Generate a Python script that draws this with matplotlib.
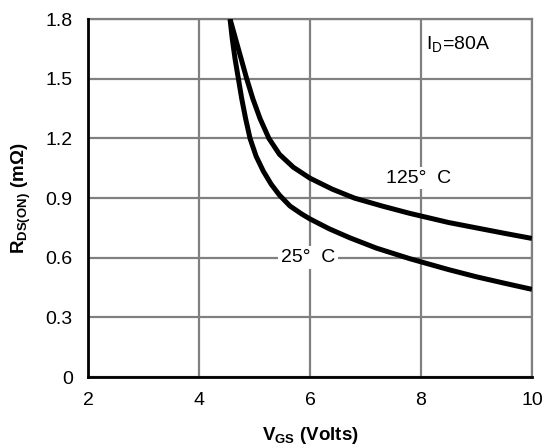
import numpy as np
import matplotlib
matplotlib.use('Agg')
import matplotlib.pyplot as plt

plt.rcParams['font.family'] = ['Liberation Sans', 'DejaVu Sans']
plt.rcParams['mathtext.fontset'] = 'custom'
plt.rcParams['mathtext.rm'] = 'Liberation Sans'
plt.rcParams['mathtext.bf'] = 'Liberation Sans:bold'

# values
vgs_125 = [4.56, 4.66, 4.76, 4.86, 4.97, 5.10, 5.26, 5.45, 5.70, 6.0, 6.4, 6.8, 7.3, 7.8, 8.5, 9.0, 9.5, 10.0]
rds_125 = [1.80, 1.70, 1.60, 1.50, 1.40, 1.30, 1.20, 1.12, 1.055, 1.00, 0.945, 0.90, 0.86, 0.823, 0.777, 0.75, 0.723, 0.697]

vgs_25 = [4.56, 4.60, 4.65, 4.71, 4.77, 4.84, 4.92, 5.03, 5.16, 5.30, 5.45, 5.64, 5.85, 6.0,
          6.35, 6.72, 7.2, 7.8, 8.5, 9.0, 9.5, 10.0]
rds_25 = [1.80, 1.70, 1.60, 1.50, 1.40, 1.30, 1.20, 1.11, 1.035, 0.97, 0.915, 0.86, 0.82, 0.795,
          0.745, 0.70, 0.648, 0.595, 0.54, 0.504, 0.472, 0.441]

xticks = [2, 4, 6, 8, 10]
yticks = [0, 0.3, 0.6, 0.9, 1.2, 1.5, 1.8]
ytick_labels = ['0', '0.3', '0.6', '0.9', '1.2', '1.5', '1.8']

fig = plt.figure(figsize=(5.45, 4.45), dpi=100)
ax = fig.add_axes([0.1615, 0.1528, 0.8145, 0.8042])

ax.plot(vgs_125, rds_125, color='black', lw=3.6, solid_capstyle='butt', solid_joinstyle='round', zorder=3)
ax.plot(vgs_25, rds_25, color='black', lw=3.6, solid_capstyle='butt', solid_joinstyle='round', zorder=3)

ax.set_xlim(2, 10)
ax.set_ylim(0, 1.8)
ax.set_xticks(xticks)
ax.set_yticks(yticks)
ax.set_yticklabels(ytick_labels)
ax.tick_params(length=0, labelsize=14, pad=11)

ax.grid(True, color='#808080', lw=1.6)
ax.set_axisbelow(True)
for s in ['top', 'right']:
    ax.spines[s].set_color('#808080')
    ax.spines[s].set_linewidth(1.6)
for s in ['left', 'bottom']:
    ax.spines[s].set_color('black')
    ax.spines[s].set_linewidth(2)
    ax.spines[s].set_zorder(4)

bbox = dict(facecolor='white', edgecolor='none', pad=2)
ax.text(7.95, 1.0, '125°  C', fontsize=14, ha='center', va='center', bbox=bbox, zorder=2)
ax.text(5.96, 0.6, '25°  C', fontsize=14, ha='center', va='center', bbox=bbox, zorder=2)
ax.text(8.1, 1.67, r'I$_\mathrm{D}$=80A', fontsize=14, ha='left', va='center')

ax.set_xlabel(r'$\mathbf{V}_{\mathbf{GS}}$ (Volts)', fontsize=13.5, fontweight='bold')
ax.set_ylabel(r'$\mathbf{R}_{\mathbf{DS(ON)}}$ (m$\mathbf{\Omega}$)', fontsize=13.5, fontweight='bold')
ax.xaxis.set_label_coords(0.5, -0.134)
ax.yaxis.set_label_coords(-0.124, 0.5)

fig.savefig('out.png', dpi=100)
